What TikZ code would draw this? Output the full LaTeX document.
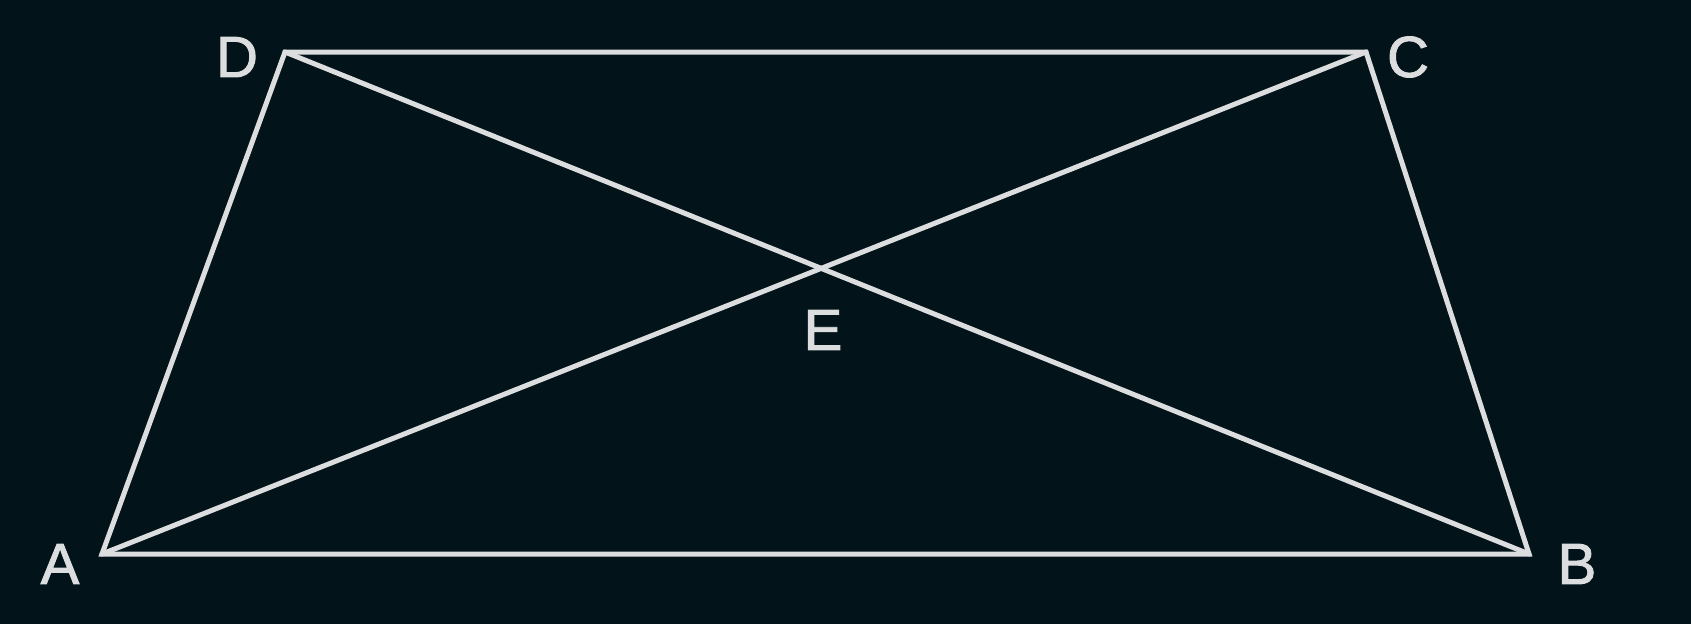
\documentclass[tikz,border=0pt]{standalone}
\usepackage{fontspec}
\setmainfont{Liberation Sans}[FakeBold=1.6]
\usetikzlibrary{intersections}
\definecolor{bg}{HTML}{02141A}
\definecolor{ln}{HTML}{DCDDDE}
\begin{document}
\begin{tikzpicture}[x=1pt,y=-1pt,
  edge/.style={draw=ln,line width=5pt,line join=miter,line cap=round},
  lbl/.style={text=ln,font=\fontsize{58}{58}\selectfont,inner sep=0pt,anchor=center}]
\fill[bg] (0,0) rectangle (1691,624);
\useasboundingbox (0,0) rectangle (1691,624);
\coordinate (A) at (102,554);
\coordinate (B) at (1529,554);
\coordinate (C) at (1366,52);
\coordinate (D) at (285,52);
\draw[edge] (A) -- (B) -- (C) -- (D) -- cycle;
\draw[edge] (A) -- (C);
\draw[edge] (D) -- (B);
\node[lbl] (la) at (60,564) {A};
\node[lbl] (lb) at (1577,564) {B};
\node[lbl] (lc) at (1408,57) {C};
\node[lbl] (ld) at (237,57) {D};
\node[lbl] (le) at (823,330) {E};
\end{tikzpicture}
\end{document}
